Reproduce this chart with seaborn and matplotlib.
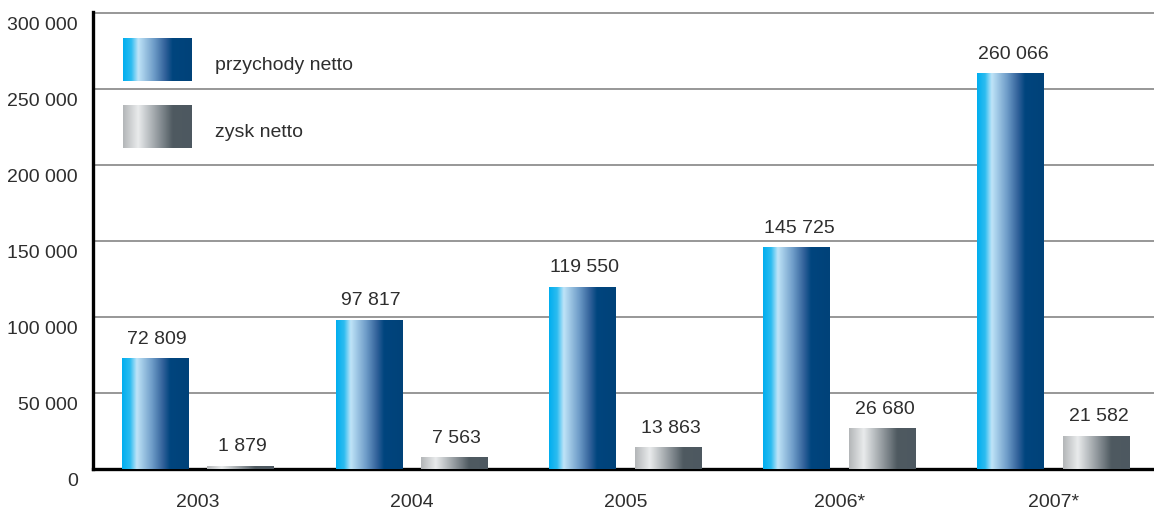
import numpy as np
import pandas as pd
import matplotlib
matplotlib.use("Agg")
import matplotlib.pyplot as plt
import matplotlib.transforms as mtransforms
from matplotlib.colors import LinearSegmentedColormap
from matplotlib.ticker import FixedLocator
import seaborn as sns

years = ["2003", "2004", "2005", "2006*", "2007*"]
revenue = [72809, 97817, 119550, 145725, 260066]
profit = [1879, 7563, 13863, 26680, 21582]
series_names = ["przychody netto", "zysk netto"]
yticks = [0, 50000, 100000, 150000, 200000, 250000, 300000]

sns.set_theme(style="white")
plt.rcParams["font.family"] = ["Liberation Sans", "DejaVu Sans"]

df = pd.DataFrame({
    "year": years * 2,
    "value": revenue + profit,
    "series": [series_names[0]] * len(years) + [series_names[1]] * len(years),
})

blue_cmap = LinearSegmentedColormap.from_list(
    "blue", [(0.0, "#00AEEF"), (0.12, "#2DBCF0"), (0.22, "#BFE4F8"),
             (0.45, "#6E9CC8"), (0.62, "#2F5F98"), (0.72, "#00457E"), (1.0, "#004279")])
gray_cmap = LinearSegmentedColormap.from_list(
    "gray", [(0.0, "#B3B6B8"), (0.22, "#E9EBEC"), (0.45, "#A3A9AD"),
             (0.62, "#6F787E"), (0.72, "#4F5A61"), (1.0, "#4D5860")])
cmaps = {series_names[0]: blue_cmap, series_names[1]: gray_cmap}
grad = np.linspace(0, 1, 256).reshape(1, -1)

FS = 14
TXT = "#2e2e2e"

fig = plt.figure(figsize=(11.54, 5.12), dpi=100)
ax = fig.add_axes([93 / 1154, 1 - 469 / 512, 1 - 93 / 1154, 457 / 512])

sns.barplot(data=df, x="year", y="value", hue="series", order=years,
            hue_order=series_names, width=0.8, gap=0.22, dodge=True,
            palette=["#00AEEF", "#B3B6B8"], legend=False, ax=ax, errorbar=None)

# Replace flat bars with horizontal gradients
n = len(years)
for i, patch in enumerate(ax.patches[: 2 * n]):
    sname = series_names[i // n]
    x0 = patch.get_x()
    w = patch.get_width()
    h = patch.get_height()
    patch.set_facecolor("none")
    patch.set_edgecolor("none")
    ax.imshow(grad, cmap=cmaps[sname], aspect="auto",
              extent=(x0, x0 + w, 0, h), zorder=3, interpolation="bilinear")
    label = f"{int(h):,}".replace(",", " ")
    ax.text(x0 + w / 2 + 0.01, h + 7100, label, ha="center", va="bottom",
            fontsize=FS, color=TXT, zorder=4)

ax.set_xlim(-0.49, 4.47)
ax.set_ylim(0, 300600)
ax.set_yticks(yticks)
ax.set_yticklabels([f"{v:,}".replace(",", " ") for v in yticks])
ax.yaxis.grid(True, color="#7a7a7a", linewidth=1.1)
ax.set_axisbelow(True)
ax.set_xlabel("")
ax.set_ylabel("")

for s in ["top", "right"]:
    ax.spines[s].set_visible(False)
ax.spines["left"].set_color("black")
ax.spines["left"].set_linewidth(2.4)
ax.spines["bottom"].set_color("black")
ax.spines["bottom"].set_linewidth(2.4)

ax.tick_params(axis="y", length=0, pad=11, labelsize=FS, labelcolor=TXT)
ax.tick_params(axis="x", which="major", length=0, pad=18, labelsize=FS, labelcolor=TXT)
ax.xaxis.set_minor_locator(FixedLocator([0.5, 1.5, 2.5, 3.5]))
ax.tick_params(axis="x", which="minor", direction="in", length=8, width=2.4, color="black")

# y tick labels sit a little below their gridlines
shift = mtransforms.ScaledTranslation(0, -11 / 100, fig.dpi_scale_trans)
for lab in ax.get_yticklabels():
    lab.set_transform(lab.get_transform() + shift)

# Legend with gradient swatches
legend_specs = [(series_names[0], 0.849, 0.943, 0.884), (series_names[1], 0.702, 0.796, 0.737)]
for name, y0, y1, yt in legend_specs:
    ax.imshow(grad, cmap=cmaps[name], aspect="auto", extent=(0.0283, 0.0924, y0, y1),
              transform=ax.transAxes, zorder=3, interpolation="bilinear")
    ax.text(0.115, yt, name, transform=ax.transAxes, ha="left", va="center",
            fontsize=FS, color=TXT)

ax.set_xlim(-0.49, 4.47)
ax.set_ylim(0, 300600)

fig.savefig("out.png", dpi=100)
